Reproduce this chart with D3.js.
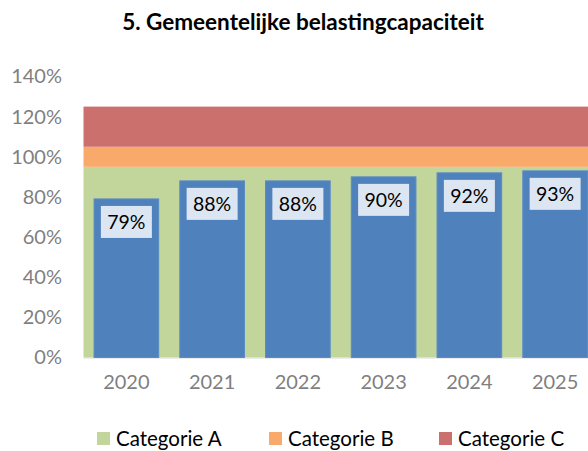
<!DOCTYPE html>
<html>
<head>
	<meta charset="utf-8">
	<title>Gemeentelijke belastingcapaciteit</title>
	<script type="text/javascript" src="https://cdn.jsdelivr.net/npm/d3@7"></script>
	<style type="text/css">
		body {
			margin: 0;
			background: #ffffff;
			font-family: Lato, "DejaVu Sans", sans-serif;
		}
		.axis {
			font-family: Lato, "DejaVu Sans", sans-serif;
		}
		.axis text {
			fill: #7f7f7f;
			font-size: 20px;
		}
	</style>
</head>
<body>
	<div id="chart"></div>
	<script type="text/javascript">
		// chart data
		const years = ["2020", "2021", "2022", "2023", "2024", "2025"];
		const capacity = [79, 88, 88, 90, 92, 93];

		// background bands (stacked), in percent
		const bandNames = ["Categorie A", "Categorie B", "Categorie C"];
		const bandSizes = [95, 10, 20];
		const bandColors = ["#c2d69b", "#f9aa6a", "#cb706c"];

		const yTicks = [0, 20, 40, 60, 80, 100, 120, 140];

		const width = 588;
		const height = 451;
		const margin = ({top: 76.5, right: -10, bottom: 93.5, left: 83.5});

		const x = d3.scaleBand()
			.domain(years)
			.range([margin.left, width - margin.right])
			.paddingInner(0.246)
			.paddingOuter(0.123);

		const y = d3.scaleLinear()
			.domain([0, 140])
			.range([height - margin.bottom, margin.top]);

		const svg = d3.select("#chart").append("svg")
			.attr("width", width)
			.attr("height", height);

		// title
		svg.append("text")
			.attr("x", 303)
			.attr("y", 30)
			.attr("text-anchor", "middle")
			.attr("font-size", "22.5px")
			.attr("font-weight", "bold")
			.attr("fill", "#000")
			.text("5. Gemeentelijke belastingcapaciteit");

		// stacked background bands
		let base = 0;
		const bands = bandSizes.map(function (v, i) {
			const b = {name: bandNames[i], lo: base, hi: base + v, color: bandColors[i]};
			base += v;
			return b;
		});

		svg.append("g").selectAll("rect")
			.data(bands)
			.join("rect")
				.attr("x", margin.left)
				.attr("width", width - margin.right - margin.left)
				.attr("y", d => y(d.hi))
				.attr("height", d => y(d.lo) - y(d.hi))
				.attr("fill", d => d.color);

		// bottom axis line
		svg.append("line")
			.attr("x1", margin.left)
			.attr("x2", width)
			.attr("y1", y(0) + 0.5)
			.attr("y2", y(0) + 0.5)
			.attr("stroke", "#d9d9d9");

		// bars
		svg.append("g").selectAll("rect")
			.data(capacity)
			.join("rect")
				.attr("x", (d, i) => x(years[i]))
				.attr("width", x.bandwidth())
				.attr("y", d => y(d))
				.attr("height", d => y(0) - y(d))
				.attr("fill", "#4f81bd")
				.attr("stroke", "#5b8cc6")
				.attr("stroke-width", 1);

		// value labels
		const labels = svg.append("g").selectAll("g")
			.data(capacity)
			.join("g")
				.attr("transform", (d, i) => `translate(${x(years[i]) + x.bandwidth() / 2},${y(d) + 7})`);

		labels.append("rect")
			.attr("x", -25.5)
			.attr("width", 51)
			.attr("height", 32)
			.attr("fill", "#dce6f2");

		labels.append("text")
			.attr("y", 23)
			.attr("text-anchor", "middle")
			.attr("font-size", "19.5px")
			.attr("fill", "#000")
			.text(d => d + "%");

		// y axis
		svg.append("g")
			.attr("class", "y axis")
			.attr("transform", "translate(62,0)")
			.call(d3.axisLeft(y).tickValues(yTicks).tickFormat(d => d + "%").tickSize(0).tickPadding(0))
			.call(g => g.select(".domain").remove());

		// x axis
		svg.append("g")
			.attr("class", "x axis")
			.attr("transform", `translate(0,${y(0) + 11})`)
			.call(d3.axisBottom(x).tickSize(0).tickPadding(6))
			.call(g => g.select(".domain").remove());

		// legend
		const legendX = [97, 269, 439];
		const legend = svg.append("g").selectAll("g")
			.data(bands)
			.join("g")
				.attr("transform", (d, i) => `translate(${legendX[i]},432)`);

		legend.append("rect")
			.attr("width", 13)
			.attr("height", 13)
			.attr("fill", d => d.color);

		legend.append("text")
			.attr("x", 19)
			.attr("y", 14)
			.attr("font-size", "20.5px")
			.attr("fill", "#000")
			.text(d => d.name);
	</script>
</body>
</html>
